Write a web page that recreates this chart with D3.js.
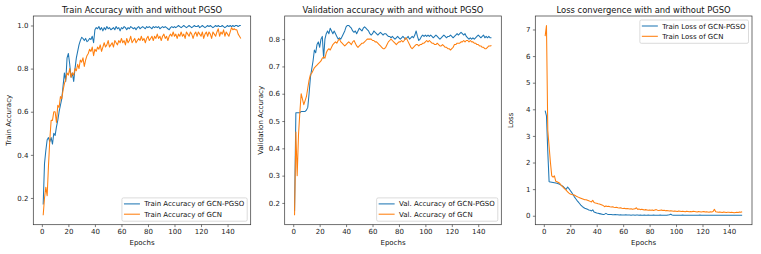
<!DOCTYPE html>
<html>
<head>
<meta charset="utf-8">
<script src="https://cdn.jsdelivr.net/npm/d3@7"></script>
<style>
  * { margin: 0; padding: 0; }
  body { background: #fff; }
  svg { font-family: "DejaVu Sans", sans-serif; }
  .series { fill: none; stroke-width: 1.05; stroke-linejoin: round; }
</style>
</head>
<body>
<svg id="chart" width="761" height="254"></svg>
<script>
var W = 761, H = 254;
var blue = "#1f77b4", orange = "#ff7f0e";

// epochs 1..150
var epochs = d3.range(1, 151);

var trainPGSO = [
  0.17,0.36,0.42,0.47,0.48,0.46,0.48,0.45,0.50,0.49,
  0.53,0.56,0.60,0.63,0.66,0.72,0.78,0.74,0.85,0.87,
  0.82,0.76,0.78,0.74,0.80,0.85,0.88,0.91,0.93,0.945,
  0.94,0.93,0.94,0.925,0.93,0.94,0.935,0.95,0.92,0.98,
  0.99,0.985,0.995,0.98,0.99,0.975,0.99,0.98,0.995,0.985,
  0.99,0.98,0.985,0.99,0.98,0.995,0.985,0.99,0.975,0.99,
  0.985,0.995,0.99,0.98,0.99,0.985,0.995,0.99,0.985,0.99,
  0.98,0.99,0.995,0.985,0.99,0.995,0.99,0.985,0.995,0.99,
  0.995,0.99,0.985,0.995,0.99,0.995,0.99,0.995,0.985,0.99,
  0.995,0.99,0.995,0.99,0.985,0.98,0.99,0.995,0.99,0.995,
  0.99,0.995,1.0,0.995,0.99,0.995,1.0,0.995,0.99,0.995,
  1.0,0.995,0.99,0.995,1.0,0.995,0.995,1.0,0.99,0.995,
  1.0,0.995,0.99,0.995,1.0,0.995,1.0,0.995,0.99,0.995,
  1.0,0.995,1.0,0.995,0.995,1.0,0.995,0.99,0.995,1.0,
  0.995,1.0,0.995,1.0,0.995,1.0,1.0,0.995,1.0,1.0
];
var trainGCN = [
  0.12,0.20,0.25,0.21,0.35,0.47,0.56,0.56,0.60,0.60,
  0.55,0.63,0.62,0.67,0.66,0.70,0.73,0.75,0.78,0.77,
  0.80,0.76,0.78,0.77,0.80,0.79,0.82,0.80,0.84,0.83,
  0.85,0.81,0.84,0.86,0.87,0.89,0.88,0.90,0.86,0.89,
  0.88,0.90,0.89,0.91,0.88,0.90,0.92,0.90,0.91,0.93,
  0.90,0.91,0.92,0.90,0.93,0.92,0.91,0.93,0.92,0.94,
  0.92,0.93,0.91,0.94,0.92,0.93,0.95,0.92,0.93,0.94,
  0.92,0.93,0.94,0.93,0.95,0.93,0.94,0.92,0.94,0.95,
  0.93,0.94,0.95,0.93,0.95,0.94,0.96,0.94,0.95,0.93,
  0.95,0.96,0.94,0.95,0.93,0.95,0.96,0.95,0.97,0.95,
  0.96,0.94,0.96,0.95,0.97,0.95,0.96,0.94,0.97,0.96,
  0.95,0.97,0.96,0.94,0.96,0.97,0.95,0.97,0.96,0.95,
  0.97,0.94,0.96,0.97,0.95,0.97,0.96,0.94,0.97,0.96,
  0.95,0.97,0.985,0.95,0.97,0.96,0.98,0.95,0.97,0.96,
  0.95,0.97,0.99,0.98,0.985,0.98,0.98,0.96,0.95,0.94
];
var valPGSO = [
  0.17,0.53,0.53,0.53,0.53,0.535,0.535,0.535,0.535,0.54,
  0.55,0.60,0.66,0.69,0.72,0.76,0.75,0.78,0.79,0.77,
  0.80,0.81,0.73,0.80,0.82,0.83,0.82,0.84,0.83,0.82,
  0.83,0.82,0.81,0.80,0.805,0.80,0.81,0.82,0.83,0.845,
  0.85,0.85,0.845,0.84,0.83,0.825,0.83,0.82,0.83,0.84,
  0.835,0.83,0.84,0.845,0.84,0.835,0.83,0.82,0.815,0.82,
  0.83,0.825,0.82,0.815,0.82,0.825,0.82,0.815,0.82,0.82,
  0.815,0.81,0.81,0.805,0.81,0.805,0.80,0.805,0.81,0.805,
  0.80,0.805,0.81,0.805,0.80,0.805,0.81,0.80,0.805,0.81,
  0.805,0.815,0.83,0.81,0.795,0.80,0.81,0.815,0.81,0.815,
  0.81,0.815,0.81,0.815,0.81,0.805,0.81,0.815,0.81,0.805,
  0.80,0.805,0.81,0.815,0.81,0.805,0.81,0.81,0.815,0.81,
  0.805,0.81,0.815,0.82,0.815,0.82,0.825,0.82,0.815,0.82,
  0.81,0.805,0.80,0.805,0.80,0.805,0.80,0.805,0.81,0.815,
  0.81,0.805,0.81,0.815,0.805,0.81,0.805,0.81,0.805,0.805
];
var valGCN = [
  0.155,0.46,0.30,0.45,0.53,0.60,0.58,0.56,0.575,0.59,
  0.62,0.65,0.67,0.675,0.685,0.695,0.70,0.705,0.71,0.715,
  0.72,0.73,0.735,0.73,0.75,0.76,0.765,0.76,0.77,0.78,
  0.785,0.79,0.785,0.795,0.80,0.79,0.785,0.78,0.775,0.78,
  0.785,0.79,0.785,0.78,0.79,0.795,0.785,0.775,0.77,0.775,
  0.78,0.785,0.785,0.79,0.795,0.80,0.80,0.80,0.80,0.795,
  0.795,0.79,0.79,0.785,0.78,0.775,0.77,0.765,0.765,0.77,
  0.78,0.79,0.795,0.80,0.795,0.79,0.785,0.78,0.785,0.79,
  0.79,0.795,0.79,0.795,0.805,0.80,0.79,0.78,0.77,0.765,
  0.77,0.775,0.78,0.78,0.775,0.78,0.78,0.785,0.785,0.79,
  0.795,0.79,0.795,0.79,0.785,0.785,0.78,0.78,0.785,0.78,
  0.775,0.775,0.78,0.775,0.77,0.77,0.765,0.765,0.76,0.765,
  0.77,0.78,0.78,0.785,0.785,0.785,0.79,0.79,0.795,0.79,
  0.795,0.795,0.79,0.795,0.79,0.79,0.785,0.785,0.78,0.78,
  0.775,0.775,0.77,0.77,0.765,0.765,0.77,0.775,0.775,0.777
];
var lossPGSO = [
  3.95,3.75,2.4,1.28,1.27,1.26,1.25,1.24,1.23,1.22,
  1.20,1.18,1.15,1.12,1.08,1.03,1.00,1.08,1.02,0.95,
  0.88,0.80,0.72,0.65,0.58,0.52,0.46,0.40,0.35,0.31,
  0.28,0.26,0.24,0.22,0.21,0.18,0.22,0.14,0.12,0.10,
  0.09,0.08,0.07,0.06,0.05,0.06,0.09,0.06,0.05,0.05,
  0.05,0.04,0.04,0.05,0.04,0.04,0.03,0.04,0.03,0.03,
  0.03,0.04,0.03,0.03,0.03,0.02,0.03,0.03,0.02,0.03,
  0.03,0.02,0.03,0.02,0.02,0.03,0.02,0.02,0.03,0.02,
  0.02,0.02,0.03,0.02,0.02,0.02,0.02,0.03,0.02,0.02,
  0.02,0.02,0.02,0.03,0.04,0.06,0.03,0.02,0.02,0.02,
  0.02,0.02,0.02,0.02,0.03,0.02,0.02,0.02,0.02,0.02,
  0.02,0.02,0.02,0.02,0.02,0.02,0.02,0.03,0.02,0.02,
  0.02,0.02,0.02,0.02,0.02,0.02,0.02,0.02,0.02,0.02,
  0.02,0.02,0.02,0.02,0.02,0.02,0.02,0.02,0.02,0.02,
  0.02,0.02,0.02,0.02,0.02,0.02,0.02,0.02,0.02,0.02
];
var lossGCN = [
  6.75,7.15,3.2,2.6,2.0,1.5,1.45,1.5,1.3,1.28,
  1.25,1.22,1.15,1.10,1.05,1.00,0.95,0.90,0.85,0.82,
  0.80,0.79,0.78,0.75,0.72,0.70,0.68,0.66,0.64,0.62,
  0.60,0.60,0.58,0.56,0.54,0.52,0.58,0.50,0.48,0.47,
  0.45,0.44,0.42,0.40,0.38,0.34,0.37,0.35,0.36,0.34,
  0.33,0.34,0.32,0.31,0.32,0.30,0.29,0.30,0.28,0.27,
  0.28,0.26,0.27,0.26,0.25,0.26,0.24,0.25,0.26,0.30,
  0.24,0.25,0.23,0.24,0.23,0.22,0.23,0.22,0.21,0.22,
  0.21,0.22,0.20,0.22,0.23,0.21,0.20,0.21,0.22,0.20,
  0.21,0.19,0.20,0.19,0.18,0.19,0.18,0.17,0.18,0.17,
  0.16,0.18,0.17,0.16,0.17,0.16,0.15,0.17,0.16,0.15,
  0.16,0.15,0.17,0.16,0.15,0.14,0.16,0.15,0.14,0.15,
  0.16,0.14,0.15,0.14,0.13,0.15,0.14,0.16,0.24,0.15,
  0.14,0.13,0.14,0.13,0.12,0.14,0.13,0.12,0.13,0.13,
  0.12,0.13,0.12,0.11,0.12,0.13,0.12,0.14,0.13,0.15
];

var panels = [
  { left: 33.3, right: 250.7, title: "Train Accuracy with and without PGSO", ylabel: "Train Accuracy",
    series: [trainPGSO, trainGCN], names: ["Train Accuracy of GCN-PGSO", "Train Accuracy of GCN"],
    yticks: [0.2, 0.4, 0.6, 0.8, 1.0], fmt: d3.format(".1f"), legend: "lower" },
  { left: 284.7, right: 501.3, title: "Validation accuracy with and without PGSO", ylabel: "Validation Accuracy",
    series: [valPGSO, valGCN], names: ["Val. Accuracy of GCN-PGSO", "Val. Accuracy of GCN"],
    yticks: [0.2, 0.3, 0.4, 0.5, 0.6, 0.7, 0.8], fmt: d3.format(".1f"), legend: "lower" },
  { left: 535.3, right: 752, title: "Loss convergence with and without PGSO", ylabel: "Loss",
    series: [lossPGSO, lossGCN], names: ["Train Loss of GCN-PGSO", "Train Loss of GCN"],
    yticks: [0, 1, 2, 3, 4, 5, 6, 7], fmt: d3.format("d"), legend: "upper" }
];
var xticks = [0, 20, 40, 60, 80, 100, 120, 140];
var axTop = 16, axBottom = 224.7;
var colors = [blue, orange];

var svg = d3.select("#chart");

function pad(ext, f) {
  var r = ext[1] - ext[0];
  return [ext[0] - r * f, ext[1] + r * f];
}

panels.forEach(function (p) {
  var g = svg.append("g");
  var x = d3.scaleLinear().domain(pad([1, 150], 0.05)).range([p.left, p.right]);
  var all = p.series[0].concat(p.series[1]);
  var y = d3.scaleLinear().domain(pad(d3.extent(all), 0.05)).range([axBottom, axTop]);

  // lines
  var line = d3.line().x(function (d, i) { return x(epochs[i]); }).y(function (d) { return y(d); });
  p.series.forEach(function (s, k) {
    g.append("path").attr("class", "series").attr("d", line(s)).attr("stroke", colors[k]);
  });

  // axes
  var xa = g.append("g").attr("transform", "translate(0," + axBottom + ")")
    .call(d3.axisBottom(x).tickValues(xticks).tickSize(2.4).tickPadding(2.4).tickFormat(d3.format("d")));
  var ya = g.append("g").attr("transform", "translate(" + p.left + ",0)")
    .call(d3.axisLeft(y).tickValues(p.yticks).tickSize(2.4).tickPadding(2.4).tickFormat(p.fmt));
  [xa, ya].forEach(function (a) {
    a.select(".domain").remove();
    a.selectAll("line").attr("stroke", "#222").attr("stroke-width", 0.6);
    a.selectAll("text").attr("font-size", 7).attr("fill", "#222").attr("font-family", "DejaVu Sans");
  });

  // frame
  g.append("rect").attr("x", p.left).attr("y", axTop).attr("width", p.right - p.left).attr("height", axBottom - axTop)
    .attr("fill", "none").attr("stroke", "#333").attr("stroke-width", 0.7);

  // title & labels
  var cx = (p.left + p.right) / 2;
  g.append("text").attr("x", cx).attr("y", 13).attr("text-anchor", "middle")
    .attr("font-size", 8.4).attr("fill", "#111").text(p.title);
  g.append("text").attr("x", cx).attr("y", 244.5).attr("text-anchor", "middle")
    .attr("font-size", 7).attr("fill", "#111").text("Epochs");
  var lx = p.left - 22;
  g.append("text").attr("transform", "translate(" + lx + "," + ((axTop + axBottom) / 2) + ") rotate(-90)")
    .attr("text-anchor", "middle").attr("font-size", 7).attr("fill", "#111").text(p.ylabel);

  // legend
  var lg = g.append("g");
  var box = lg.append("rect").attr("fill", "#fff").attr("fill-opacity", 0.8)
    .attr("stroke", "#ccc").attr("stroke-width", 0.7).attr("rx", 1.5);
  var texts = p.names.map(function (n, k) {
    return lg.append("text").attr("font-size", 7).attr("fill", "#111").text(n);
  });
  var tw = d3.max(texts, function (t) { return t.node().getComputedTextLength(); });
  var bw = 2 + 16 + 4.4 + tw + 3, bh = 23.3;
  var bx = p.right - 3.5 - bw;
  var by = p.legend === "lower" ? axBottom - 3.5 - bh : axTop + 4;
  box.attr("x", bx).attr("y", by).attr("width", bw).attr("height", bh);
  p.names.forEach(function (n, k) {
    var ry = by + 6 + k * 10.3;
    lg.append("line").attr("x1", bx + 2).attr("x2", bx + 18).attr("y1", ry).attr("y2", ry)
      .attr("stroke", colors[k]).attr("stroke-width", 1.05);
    texts[k].attr("x", bx + 22.4).attr("y", ry + 2.5);
  });
});
</script>
</body>
</html>
